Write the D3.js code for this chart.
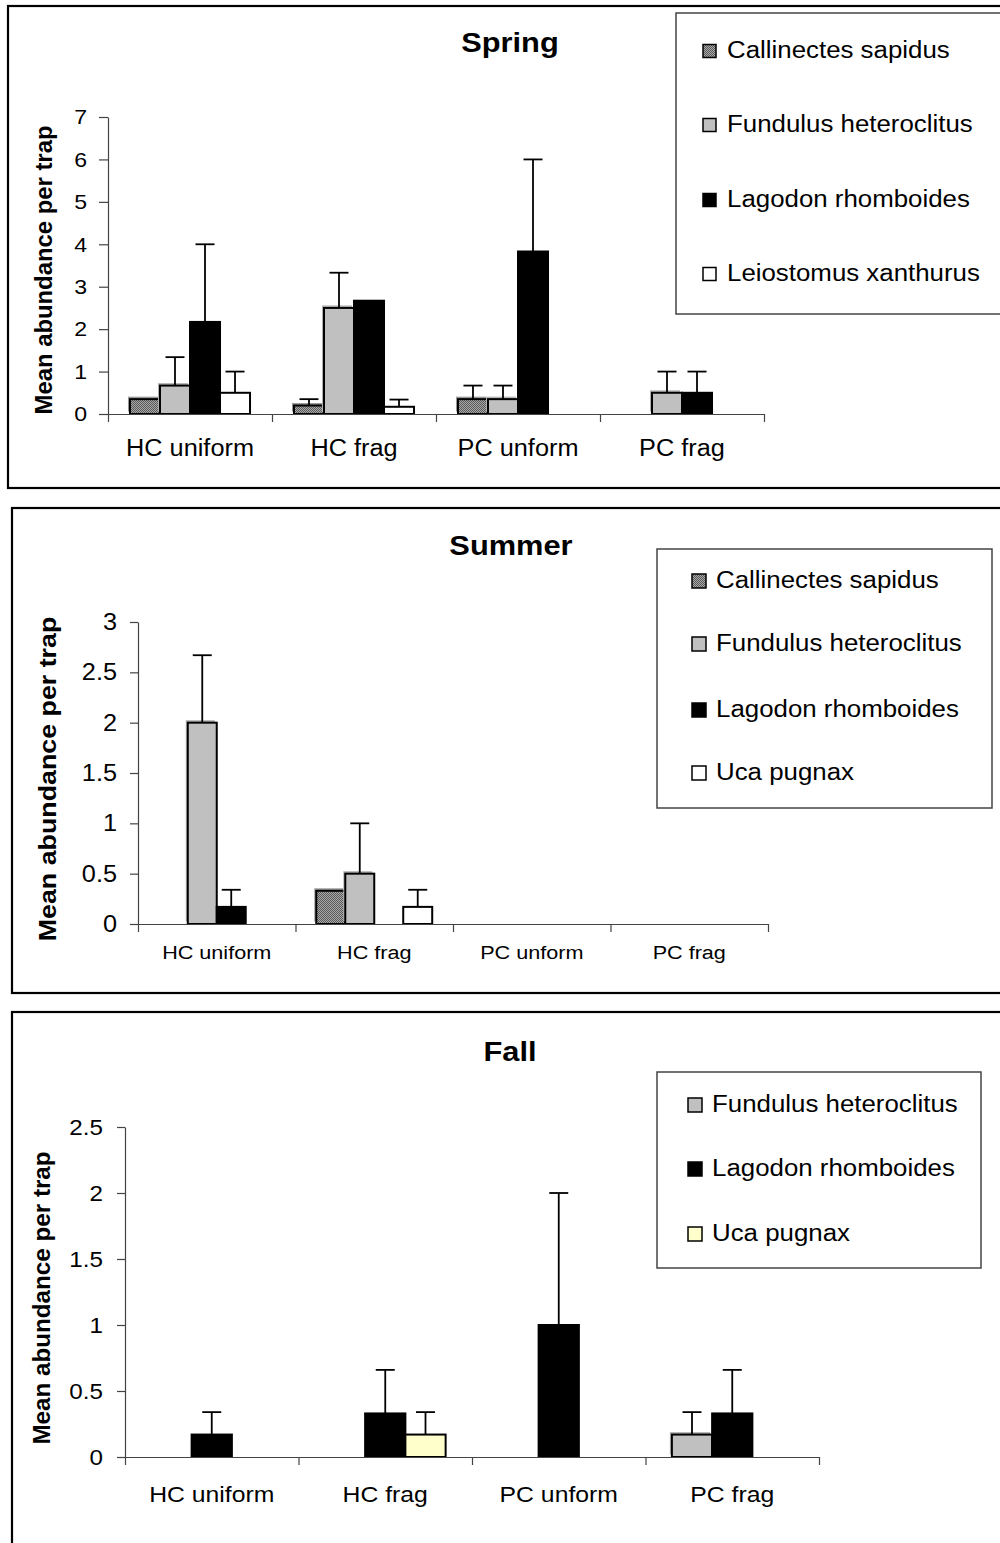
<!DOCTYPE html>
<html>
<head>
<meta charset="utf-8">
<script src="https://cdn.jsdelivr.net/npm/d3@7"></script>
<style>
  body { margin: 0; background: #fff; }
  svg { display: block; }
  text { font-family: Arial, "Liberation Sans", sans-serif; fill: #000; }
</style>
</head>
<body>
<svg id="fig" width="1000" height="1543"></svg>
<script>
// ---- data ---------------------------------------------------------------
const categories = ["HC uniform", "HC frag", "PC unform", "PC frag"];

// Spring
const springCallinectes    = [0.35, 0.20, 0.35, 0];
const springCallinectesErr = [0,    0.15, 0.32, 0];
const springFundulus       = [0.67, 2.50, 0.35, 0.50];
const springFundulusErr    = [0.67, 0.83, 0.32, 0.50];
const springLagodon        = [2.17, 2.67, 3.83, 0.50];
const springLagodonErr     = [1.83, 0,    2.17, 0.50];
const springLeiostomus     = [0.50, 0.17, 0,    0];
const springLeiostomusErr  = [0.50, 0.17, 0,    0];
const springTicks = [0, 1, 2, 3, 4, 5, 6, 7];

// Summer
const summerCallinectes    = [0,    0.33, 0, 0];
const summerCallinectesErr = [0,    0,    0, 0];
const summerFundulus       = [2.00, 0.50, 0, 0];
const summerFundulusErr    = [0.67, 0.50, 0, 0];
const summerLagodon        = [0.17, 0,    0, 0];
const summerLagodonErr     = [0.17, 0,    0, 0];
const summerUca            = [0,    0.17, 0, 0];
const summerUcaErr         = [0,    0.17, 0, 0];
const summerTicks = [0, 0.5, 1, 1.5, 2, 2.5, 3];

// Fall
const fallFundulus    = [0,    0,    0,    0.17];
const fallFundulusErr = [0,    0,    0,    0.17];
const fallLagodon     = [0.17, 0.33, 1.00, 0.33];
const fallLagodonErr  = [0.17, 0.33, 1.00, 0.33];
const fallUca         = [0,    0.17, 0,    0];
const fallUcaErr      = [0,    0.17, 0,    0];
const fallTicks = [0, 0.5, 1, 1.5, 2, 2.5];

const yTitle = "Mean abundance per trap";

// ---- styles -------------------------------------------------------------
const fills = {
  "Callinectes sapidus": "url(#dither)",
  "Fundulus heteroclitus": "#c0c0c0",
  "Lagodon rhomboides": "#000000",
  "Leiostomus xanthurus": "#ffffff",
  "Uca pugnax": "#ffffff"
};
// grey fills get a faint offset halo
const halo = { "Callinectes sapidus": "#9a9a9a", "Fundulus heteroclitus": "#b4b4b4" };

const svg = d3.select("#fig");
const defs = svg.append("defs");
const pat = defs.append("pattern").attr("id", "dither")
  .attr("width", 2).attr("height", 2).attr("patternUnits", "userSpaceOnUse");
pat.append("rect").attr("width", 2).attr("height", 2).attr("fill", "#a8a8a8");
pat.append("rect").attr("width", 1).attr("height", 1).attr("fill", "#5a5a5a");
pat.append("rect").attr("x", 1).attr("y", 1).attr("width", 1).attr("height", 1).attr("fill", "#5a5a5a");

// widen glyphs horizontally by factor k (the figure's text is slightly wide)
function stretch(sel, k) {
  sel.each(function () {
    const w = this.getComputedTextLength();
    d3.select(this).attr("textLength", w * k).attr("lengthAdjust", "spacingAndGlyphs");
  });
}

const panels = [
  {
    title: "Spring",
    series: [
      { name: "Callinectes sapidus", v: springCallinectes, e: springCallinectesErr },
      { name: "Fundulus heteroclitus", v: springFundulus, e: springFundulusErr },
      { name: "Lagodon rhomboides", v: springLagodon, e: springLagodonErr },
      { name: "Leiostomus xanthurus", v: springLeiostomus, e: springLeiostomusErr }
    ],
    ticks: springTicks, ymax: 7,
    frame: { x: 8, y: 6, w: 1000, h: 482 },
    plot: { x0: 108, x1: 764, y0: 414, yTop: 117 },
    side: 0.134,
    titleY: 52, titleX: 510,
    tickFont: 21, tickSize: 9, tickPad: 12,
    xFont: 23, xBaseline: 456, xStretch: 1.1,
    yTitleX: 52, yTitleY: 270, yTitleFont: 23.5, yTitleK: 1.015,
    legend: { x: 676, y: 13, w: 330, h: 301, sq: 13, sqX: 703, txtX: 727, items: [50, 124, 199, 273] },
    legendFont: 23.5
  },
  {
    title: "Summer",
    series: [
      { name: "Callinectes sapidus", v: summerCallinectes, e: summerCallinectesErr },
      { name: "Fundulus heteroclitus", v: summerFundulus, e: summerFundulusErr },
      { name: "Lagodon rhomboides", v: summerLagodon, e: summerLagodonErr },
      { name: "Uca pugnax", v: summerUca, e: summerUcaErr }
    ],
    ticks: summerTicks, ymax: 3,
    frame: { x: 12, y: 508, w: 1000, h: 485 },
    plot: { x0: 138, x1: 768, y0: 924, yTop: 622 },
    side: 0.132,
    titleY: 555, titleX: 511,
    tickFont: 23, tickSize: 8, tickPad: 13,
    xFont: 18, xBaseline: 959, xStretch: 1.2,
    yTitleX: 56, yTitleY: 779, yTitleFont: 23.5, yTitleK: 1.14,
    legend: { x: 657, y: 549, w: 335, h: 259, sq: 14, sqX: 692, txtX: 716, items: [580, 643, 709, 772] },
    legendFont: 23.5
  },
  {
    title: "Fall",
    series: [
      { name: "Fundulus heteroclitus", v: fallFundulus, e: fallFundulusErr },
      { name: "Lagodon rhomboides", v: fallLagodon, e: fallLagodonErr },
      { name: "Uca pugnax", v: fallUca, e: fallUcaErr, fill: "#ffffcc" }
    ],
    ticks: fallTicks, ymax: 2.5,
    frame: { x: 12, y: 1012, w: 1000, h: 600 },
    plot: { x0: 125, x1: 819, y0: 1457, yTop: 1127 },
    side: 0.152,
    titleY: 1061, titleX: 510,
    tickFont: 22, tickSize: 8, tickPad: 14,
    xFont: 22.5, xBaseline: 1502, xStretch: 1.1,
    yTitleX: 50, yTitleY: 1298, yTitleFont: 23.5, yTitleK: 1.03,
    legend: { x: 657, y: 1072, w: 324, h: 196, sq: 14, sqX: 688, txtX: 712, items: [1104, 1168, 1233] },
    legendFont: 23.5
  }
];

function fillOf(s) { return s.fill || fills[s.name]; }

panels.forEach(p => {
  const g = svg.append("g");

  // outer frame
  g.append("rect")
    .attr("x", p.frame.x).attr("y", p.frame.y)
    .attr("width", p.frame.w).attr("height", p.frame.h)
    .attr("fill", "none").attr("stroke", "#000").attr("stroke-width", 2.2);

  const y = d3.scaleLinear().domain([0, p.ymax]).range([p.plot.y0, p.plot.yTop]);
  const x = d3.scaleBand().domain(categories).range([p.plot.x0, p.plot.x1]).padding(0);
  const bw = x.bandwidth();
  const inner = d3.scaleBand().domain(p.series.map(s => s.name))
    .range([bw * p.side, bw * (1 - p.side)]).padding(0);

  // bars
  p.series.forEach(s => {
    const rows = categories.map((c, i) => ({ c, v: s.v[i], e: s.e[i] })).filter(d => d.v > 0);
    const bg = g.append("g");
    if (halo[s.name] && !s.fill) {
      bg.selectAll("rect.halo").data(rows).join("rect").attr("class", "halo")
        .attr("x", d => x(d.c) + inner(s.name) - 2)
        .attr("y", d => y(d.v) - 2.5)
        .attr("width", inner.bandwidth())
        .attr("height", d => y(0) - y(d.v))
        .attr("fill", halo[s.name]);
    }
    bg.selectAll("rect.bar").data(rows).join("rect").attr("class", "bar")
      .attr("x", d => x(d.c) + inner(s.name))
      .attr("y", d => y(d.v))
      .attr("width", inner.bandwidth())
      .attr("height", d => y(0) - y(d.v))
      .attr("fill", fillOf(s))
      .attr("stroke", "#000").attr("stroke-width", 2);
  });

  // error bars (upper only)
  const cap = 9.5;
  p.series.forEach(s => {
    const rows = categories.map((c, i) => ({ c, v: s.v[i], e: s.e[i] })).filter(d => d.e > 0);
    const eg = g.append("g").attr("stroke", "#000").attr("stroke-width", 1.8);
    eg.selectAll("line.v").data(rows).join("line").attr("class", "v")
      .attr("x1", d => x(d.c) + inner(s.name) + inner.bandwidth() / 2)
      .attr("x2", d => x(d.c) + inner(s.name) + inner.bandwidth() / 2)
      .attr("y1", d => y(d.v)).attr("y2", d => y(d.v + d.e));
    eg.selectAll("line.c").data(rows).join("line").attr("class", "c")
      .attr("x1", d => x(d.c) + inner(s.name) + inner.bandwidth() / 2 - cap)
      .attr("x2", d => x(d.c) + inner(s.name) + inner.bandwidth() / 2 + cap)
      .attr("y1", d => y(d.v + d.e)).attr("y2", d => y(d.v + d.e));
  });

  // y axis
  const ya = g.append("g").attr("transform", `translate(${p.plot.x0},0)`)
    .call(d3.axisLeft(y).tickValues(p.ticks).tickFormat(d3.format("~g"))
      .tickSize(p.tickSize).tickSizeOuter(0).tickPadding(p.tickPad));
  ya.select(".domain").attr("stroke", "#444").attr("stroke-width", 1.2);
  ya.selectAll(".tick line").attr("stroke", "#444").attr("stroke-width", 1.2);
  ya.selectAll("text").attr("font-size", p.tickFont).attr("font-family", null).attr("fill", "#000");
  stretch(ya.selectAll("text"), 1.1);

  // x axis: boundary ticks
  const xb = d3.scaleLinear().domain([0, categories.length]).range([p.plot.x0, p.plot.x1]);
  const xa = g.append("g").attr("transform", `translate(0,${p.plot.y0})`)
    .call(d3.axisBottom(xb).tickValues(d3.range(categories.length + 1))
      .tickFormat("").tickSize(8).tickSizeOuter(0));
  xa.select(".domain").attr("stroke", "#444").attr("stroke-width", 1.2);
  xa.selectAll(".tick line").attr("stroke", "#444").attr("stroke-width", 1.2);

  // x axis: category labels
  const xl = g.append("g").attr("transform", `translate(0,${p.plot.y0})`)
    .call(d3.axisBottom(x).tickSize(0).tickPadding(p.xBaseline - p.plot.y0 - 0.71 * p.xFont));
  xl.select(".domain").remove();
  xl.selectAll("text").attr("font-size", p.xFont).attr("font-family", null).attr("fill", "#000");
  stretch(xl.selectAll("text"), p.xStretch);

  // y axis title
  const yt = g.append("text")
    .attr("transform", `translate(${p.yTitleX},${p.yTitleY}) rotate(-90)`)
    .attr("text-anchor", "middle").attr("font-weight", "bold")
    .attr("font-size", p.yTitleFont).text(yTitle);
  stretch(yt, p.yTitleK);

  // chart title
  const tt = g.append("text").attr("x", p.titleX).attr("y", p.titleY)
    .attr("text-anchor", "middle").attr("font-weight", "bold").attr("font-size", 28)
    .text(p.title);
  stretch(tt, 1.1);

  // legend
  const L = p.legend;
  g.append("rect").attr("x", L.x).attr("y", L.y).attr("width", L.w).attr("height", L.h)
    .attr("fill", "#fff").attr("stroke", "#444").attr("stroke-width", 1.5);
  const li = g.append("g").selectAll("g").data(p.series).join("g")
    .attr("transform", (d, i) => `translate(0,${L.items[i]})`);
  li.append("rect").attr("x", L.sqX).attr("y", -L.sq / 2 + 1)
    .attr("width", L.sq).attr("height", L.sq)
    .attr("fill", d => fillOf(d)).attr("stroke", "#000").attr("stroke-width", 1.5);
  const lt = li.append("text").attr("x", L.txtX).attr("y", 0).attr("dy", "0.36em")
    .attr("font-size", p.legendFont).text(d => d.name);
  stretch(lt, 1.1);
});
</script>
</body>
</html>
